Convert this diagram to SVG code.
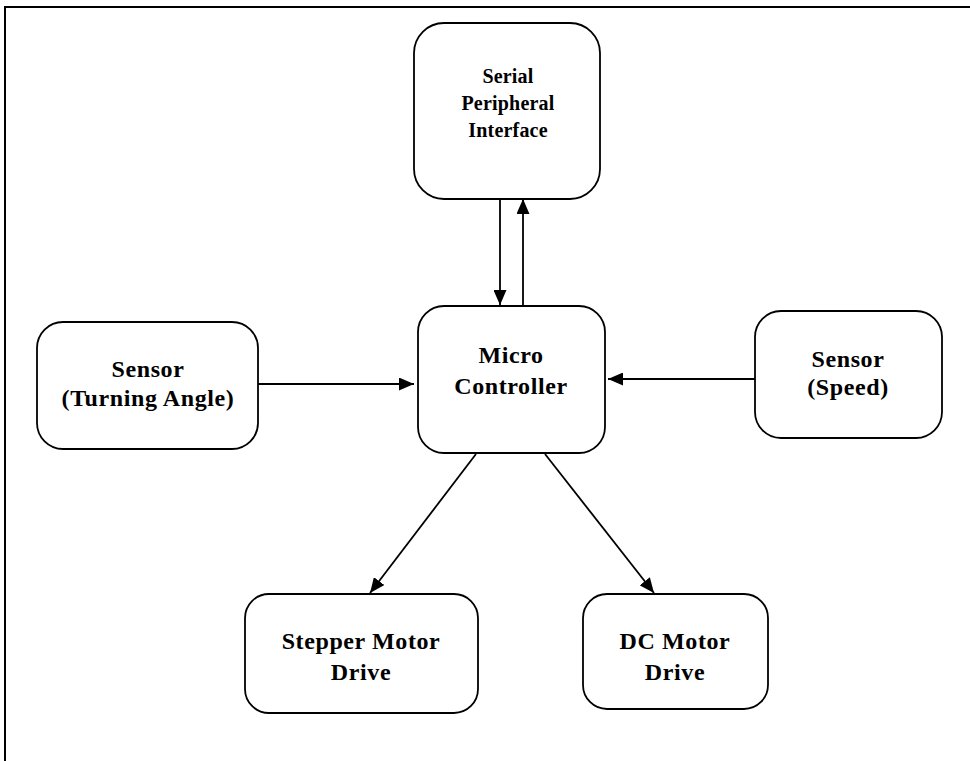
<svg xmlns="http://www.w3.org/2000/svg" width="970" height="761" viewBox="0 0 970 761">
  <style>
    .box { fill: #ffffff; stroke: #000; stroke-width: 1.8; }
    .lbl { font-family: "Liberation Serif", "Times New Roman", serif; font-weight: bold; font-size: 24px; fill: #000; text-anchor: middle; letter-spacing: 0.6px; }
    .sm { font-size: 20px; letter-spacing: 0.2px; }
    .wire { stroke: #000; stroke-width: 1.8; fill: none; }
    .frame { stroke: #000; stroke-width: 2; fill: none; }
  </style>
  <defs>
    <marker id="arrow" viewBox="0 0 15 13" refX="15" refY="6.5" markerWidth="15" markerHeight="13" markerUnits="userSpaceOnUse" orient="auto">
      <path d="M0,0 L15,6.5 L0,13 Z" fill="#000"/>
    </marker>
  </defs>

  <rect width="970" height="761" fill="#ffffff"/>

  <!-- page frame: top and left edges only -->
  <path class="frame" d="M5,761 L5,7 L970,7"/>

  <g id="spi">
    <rect class="box" x="414" y="23" width="186" height="176" rx="30" ry="30"/>
    <text class="lbl sm" x="508" y="83">Serial</text>
    <text class="lbl sm" x="508" y="110">Peripheral</text>
    <text class="lbl sm" x="508" y="137">Interface</text>
  </g>

  <g id="micro">
    <rect class="box" x="418" y="306" width="187" height="147" rx="26" ry="26"/>
    <text class="lbl" x="511" y="363">Micro</text>
    <text class="lbl" x="511" y="394">Controller</text>
  </g>

  <g id="sensor-angle">
    <rect class="box" x="37" y="322" width="221" height="127" rx="26" ry="26"/>
    <text class="lbl" x="148" y="377">Sensor</text>
    <text class="lbl" x="148" y="406">(Turning Angle)</text>
  </g>

  <g id="sensor-speed">
    <rect class="box" x="755" y="311" width="187" height="127" rx="26" ry="26"/>
    <text class="lbl" x="848" y="367">Sensor</text>
    <text class="lbl" x="848" y="395">(Speed)</text>
  </g>

  <g id="stepper">
    <rect class="box" x="245" y="594" width="233" height="119" rx="24" ry="24"/>
    <text class="lbl" x="361" y="649">Stepper Motor</text>
    <text class="lbl" x="361" y="680">Drive</text>
  </g>

  <g id="dc">
    <rect class="box" x="583" y="594" width="185" height="115" rx="24" ry="24"/>
    <text class="lbl" x="675" y="649">DC Motor</text>
    <text class="lbl" x="675" y="680">Drive</text>
  </g>

  <g id="connectors">
    <line class="wire" x1="500" y1="199" x2="500" y2="305" marker-end="url(#arrow)"/>
    <line class="wire" x1="523" y1="305" x2="523" y2="199" marker-end="url(#arrow)"/>
    <line class="wire" x1="258" y1="384" x2="414" y2="384" marker-end="url(#arrow)"/>
    <line class="wire" x1="755" y1="379" x2="608" y2="379" marker-end="url(#arrow)"/>
    <line class="wire" x1="476" y1="454" x2="370" y2="593" marker-end="url(#arrow)"/>
    <line class="wire" x1="545" y1="454" x2="654" y2="593" marker-end="url(#arrow)"/>
  </g>
</svg>
